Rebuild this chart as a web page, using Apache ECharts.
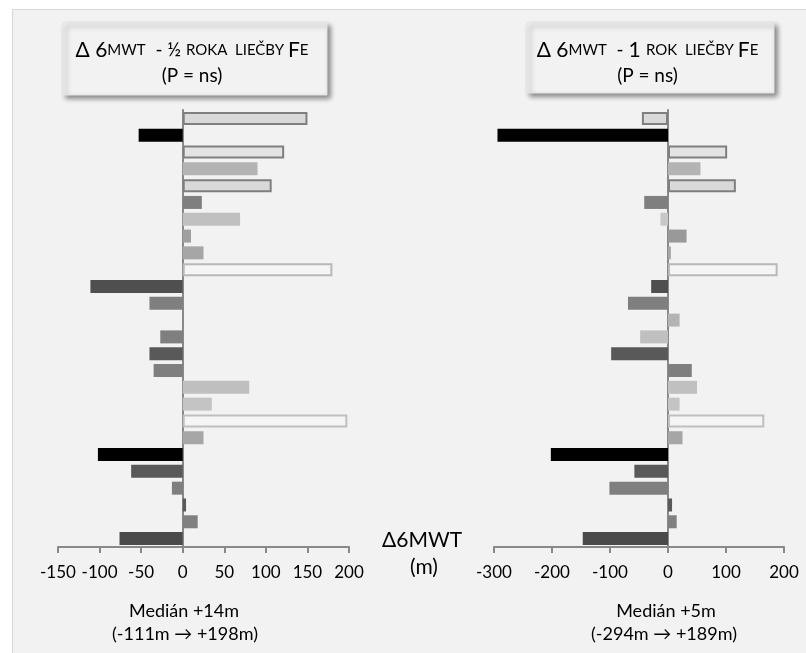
<!DOCTYPE html>
<html>
<head>
<meta charset="utf-8">
<script src="https://cdn.jsdelivr.net/npm/echarts@6/dist/echarts.min.js"></script>
<style>
html,body{margin:0;padding:0;background:#ffffff;}
#chart{width:806px;height:653px;}
</style>
</head>
<body>
<div id="chart"></div>
<script>
// ---- data ----
const patients = ['1','2','3','4','5','6','7','8','9','10','11','12','13','14','15','16','17','18','19','20','21','22','23','24','25','26'];
const deltaHalfYear = [150, -53, 122, 90, 107, 23, 69, 10, 25, 180, -111, -40, 0, -27, -40, -35, 80, 35, 198, 25, -102, -62, -13, 4, 18, -76];
const deltaOneYear = [-45, -294, 102, 56, 117, -41, -13, 32, 5, 189, -29, -69, 20, -48, -98, 41, 50, 20, 166, 25, -202, -58, -101, 7, 15, -147];
const ticksHalfYear = { min: -150, max: 200, step: 50 };
const ticksOneYear = { min: -300, max: 200, step: 100 };

// ---- styles (fill colours / outlines per bar) ----
const fillHalf = ['#d9d9d9','#000000','#e3e3e3','#b4b4b4','#d9d9d9','#7f7f7f','#c0c0c0','#a0a0a0','#a6a6a6','#f5f5f5','#4f4f4f','#7f7f7f','#b4b4b4','#7f7f7f','#595959','#7f7f7f','#bfbfbf','#c4c4c4','#f5f5f5','#a6a6a6','#000000','#595959','#7f7f7f','#595959','#808080','#4a4a4a'];
const fillYear = ['#d9d9d9','#000000','#e3e3e3','#b4b4b4','#d9d9d9','#7f7f7f','#c8c8c8','#999999','#a6a6a6','#f5f5f5','#4f4f4f','#7f7f7f','#b4b4b4','#c0c0c0','#595959','#7f7f7f','#c0c0c0','#c4c4c4','#f5f5f5','#a6a6a6','#000000','#595959','#7f7f7f','#595959','#808080','#4a4a4a'];
const outline = [ '#7f7f7f',null,'#7f7f7f',null,'#7f7f7f',null,null,null,null,'#b8b8b8',null,null,null,null,null,null,null,null,'#bfbfbf',null,null,null,null,null,null,null];

const FONT = 'Lato, "Open Sans", sans-serif';
const AXC = '#898989';

function barData(vals, fills) {
  return vals.map((v, i) => ({
    value: v,
    itemStyle: outline[i]
      ? { color: fills[i], borderColor: outline[i], borderWidth: 2 }
      : { color: fills[i] }
  }));
}

function xAx(idx, t) {
  return {
    gridIndex: idx, type: 'value', min: t.min, max: t.max, interval: t.step,
    axisLine: { show: true, onZero: false, lineStyle: { color: AXC, width: 2 } },
    axisTick: { show: true, length: 6, lineStyle: { color: AXC, width: 2 } },
    axisLabel: { fontSize: 17, color: '#000', margin: 17, fontFamily: FONT },
    splitLine: { show: false }
  };
}
function yAx(idx) {
  return {
    gridIndex: idx, type: 'category', data: patients, inverse: true,
    axisLine: { show: true, onZero: true, lineStyle: { color: AXC, width: 2 } },
    axisTick: { show: false }, axisLabel: { show: false }, splitLine: { show: false }
  };
}

const titleRich = {
  big: { fontSize: 21, fontFamily: FONT, color: '#000' },
  sm: { fontSize: 15, fontFamily: FONT, color: '#000' },
  nm: { fontSize: 19, fontFamily: FONT, color: '#000' }
};

function titleBox(x, y, w, h, line1, line2) {
  return {
    type: 'group', z: 5,
    children: [
      { type: 'rect', shape: { x: x, y: y, width: w, height: h },
        style: { fill: '#f2f2f2', stroke: '#e4e4e4', lineWidth: 1, shadowBlur: 5, shadowOffsetX: 3, shadowOffsetY: 3, shadowColor: 'rgba(0,0,0,0.45)' } },
      { type: 'text', x: x + w / 2 - 3, y: y + 27,
        style: { text: line1, rich: titleRich, align: 'center', verticalAlign: 'middle' } },
      { type: 'text', x: x + w / 2 - 3, y: y + 53,
        style: { text: line2, fontSize: 19, fontFamily: FONT, fill: '#000', align: 'center', verticalAlign: 'middle' } }
    ]
  };
}

const chart = echarts.init(document.getElementById('chart'));
chart.setOption({
  backgroundColor: '#ffffff',
  animation: false,
  grid: [
    { left: 58, width: 291, top: 110, height: 437 },
    { left: 494, width: 290, top: 110, height: 437 }
  ],
  xAxis: [xAx(0, ticksHalfYear), xAx(1, ticksOneYear)],
  yAxis: [yAx(0), yAx(1)],
  series: [
    { type: 'bar', xAxisIndex: 0, yAxisIndex: 0, barWidth: 13, data: barData(deltaHalfYear, fillHalf) },
    { type: 'bar', xAxisIndex: 1, yAxisIndex: 1, barWidth: 13, data: barData(deltaOneYear, fillYear) }
  ],
  graphic: [
    { type: 'rect', z: -10, silent: true, shape: { x: 12.5, y: 9.5, width: 800, height: 650 },
      style: { fill: '#f2f2f2', stroke: '#d9d9d9', lineWidth: 1 } },
    titleBox(63, 23, 264, 72,
      '{big|Δ 6}{sm|MWT}{nm|  - ½ }{sm|ROKA  LIEČBY }{big|F}{sm|E}', '(P = ns)'),
    titleBox(527, 23, 247, 70,
      '{big|Δ 6}{sm|MWT}{nm|  - }{big|1 }{sm|ROK  LIEČBY }{big|F}{sm|E}', '(P = ns)'),
    { type: 'text', x: 422, y: 540, style: { text: 'Δ6MWT', fontSize: 21, fontFamily: FONT, fill: '#000', align: 'center', verticalAlign: 'middle' } },
    { type: 'text', x: 424, y: 567, style: { text: '(m)', fontSize: 21, fontFamily: FONT, fill: '#000', align: 'center', verticalAlign: 'middle' } },
    { type: 'text', x: 184, y: 611, style: { text: 'Medián +14m', fontSize: 18, fontFamily: FONT, fill: '#000', align: 'center', verticalAlign: 'middle' } },
    { type: 'text', x: 185, y: 634, style: { text: '(-111m → +198m)', fontSize: 18, fontFamily: FONT, fill: '#000', align: 'center', verticalAlign: 'middle' } },
    { type: 'text', x: 666, y: 611, style: { text: 'Medián +5m', fontSize: 18, fontFamily: FONT, fill: '#000', align: 'center', verticalAlign: 'middle' } },
    { type: 'text', x: 664, y: 634, style: { text: '(-294m → +189m)', fontSize: 18, fontFamily: FONT, fill: '#000', align: 'center', verticalAlign: 'middle' } }
  ]
});
</script>
</body>
</html>
